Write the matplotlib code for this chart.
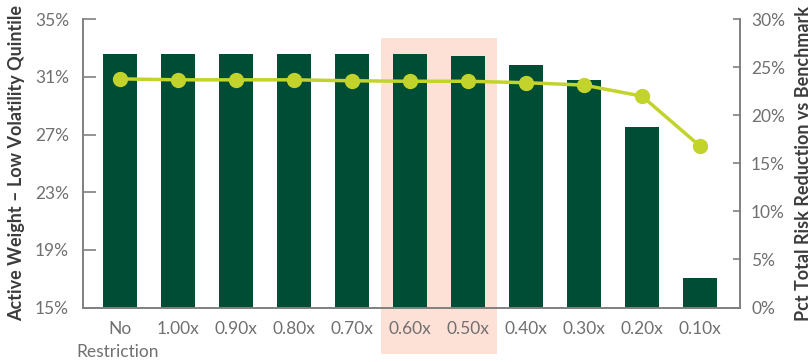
import matplotlib
matplotlib.use("Agg")
import matplotlib.pyplot as plt
from matplotlib.patches import Rectangle
import matplotlib.transforms as mtransforms

categories = ["No", "1.00x", "0.90x", "0.80x", "0.70x", "0.60x",
              "0.50x", "0.40x", "0.30x", "0.20x", "0.10x"]
first_label_line2 = "Restriction"
active_weight = [32.6, 32.6, 32.6, 32.6, 32.6, 32.6, 32.45, 31.85, 30.8, 27.55, 17.05]
risk_reduction = [23.8, 23.7, 23.7, 23.7, 23.6, 23.55, 23.55, 23.4, 23.15, 22.0, 16.8]
left_ticks = [15, 19, 23, 27, 31, 35]
right_ticks = [0, 5, 10, 15, 20, 25, 30]

plt.rcParams['font.family'] = ['Lato', 'DejaVu Sans']

BAR = "#004d35"
LINE = "#c2d42b"
HL = "#fde0d6"
SPINE = "#808080"
TICK = "#707070"
LABEL = "#3c3c3c"

fig = plt.figure(figsize=(8.11, 3.62), dpi=100)
ax = fig.add_axes([83/811, 1-307.5/362, (740-83)/811, (307.5-19.3)/362])
x = list(range(len(categories)))

ax.add_patch(Rectangle((4.5, 11.8), 2.0, 33.7-11.8, facecolor=HL, edgecolor='none',
                       clip_on=False, zorder=0))
ax.bar(x, [v - 15 for v in active_weight], bottom=15, width=0.586, color=BAR, zorder=2)
ax.set_ylim(15, 35)
ax.set_xlim(-0.64, 10.69)
ax.set_yticks(left_ticks)
ax.set_yticklabels([f"{t}%" for t in left_ticks])
ax.set_xticks(x)
ax.set_xticklabels(categories)
ax.tick_params(axis='x', length=0, pad=10, labelsize=12.5, labelcolor=TICK)
ax.tick_params(axis='y', direction='in', length=9, width=1.2, color=SPINE, pad=10,
               labelsize=12.5, labelcolor=TICK)
# second line of the first category label
trans = mtransforms.blended_transform_factory(ax.transData, fig.transFigure)
ax.text(x[0] - 0.05, 1 - 352/362, first_label_line2, transform=trans, ha='center',
        va='center', fontsize=12.5, color=TICK)
ax.spines['top'].set_visible(False)
for s in ['left', 'bottom', 'right']:
    ax.spines[s].set_color(SPINE)
    ax.spines[s].set_linewidth(1.2)
ax.set_ylabel("Active Weight – Low Volatility Quintile", fontsize=13, fontweight='bold',
              color=LABEL, labelpad=7)

ax2 = ax.twinx()
ax2.plot(x, risk_reduction, color=LINE, linewidth=2.5, marker='o', markersize=10,
         zorder=3)
ax2.set_ylim(0, 30)
ax2.set_yticks(right_ticks)
ax2.set_yticklabels([f"{t}%" for t in right_ticks])
ax2.tick_params(axis='y', direction='in', length=5, width=1.2, color=SPINE, pad=8,
                labelsize=12.5, labelcolor=TICK)
ax2.spines['top'].set_visible(False)
for s in ['left', 'bottom', 'right']:
    ax2.spines[s].set_color(SPINE)
    ax2.spines[s].set_linewidth(1.2)
ax2.set_ylabel("Pct Total Risk Reduction vs Benchmark", fontsize=13, fontweight='bold',
               color=LABEL, rotation=90, labelpad=7)

fig.savefig("out.png", dpi=100)
